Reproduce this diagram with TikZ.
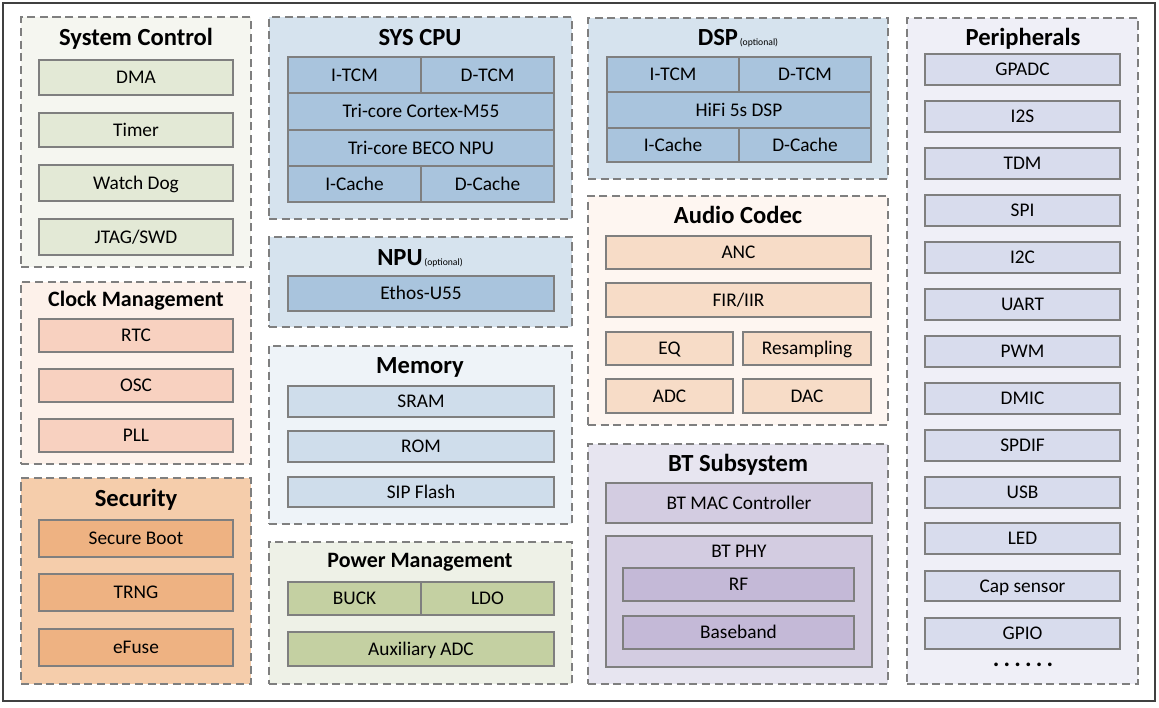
\documentclass[tikz,border=0pt]{standalone}
\usepackage{fontspec}
\setmainfont{Carlito}
\usepackage{tikz}

\definecolor{edgegray}{HTML}{7F7F7F}
\definecolor{framegray}{HTML}{404040}
\definecolor{scpanel}{HTML}{F5F6F0}
\definecolor{scbox}{HTML}{E3E9D6}
\definecolor{ckpanel}{HTML}{FDF1EA}
\definecolor{ckbox}{HTML}{F8D1C0}
\definecolor{secpanel}{HTML}{F5CDAB}
\definecolor{secbox}{HTML}{EEB282}
\definecolor{cpupanel}{HTML}{D6E3EE}
\definecolor{cpubox}{HTML}{A9C4DD}
\definecolor{mempanel}{HTML}{EEF3F8}
\definecolor{membox}{HTML}{CFDDEB}
\definecolor{pwrpanel}{HTML}{EEF1E7}
\definecolor{pwrbox}{HTML}{C4D0A2}
\definecolor{acpanel}{HTML}{FEF6F1}
\definecolor{acbox}{HTML}{F7DCC7}
\definecolor{btpanel}{HTML}{E7E5F0}
\definecolor{btbox}{HTML}{D3CCE1}
\definecolor{btinner}{HTML}{C4B9D7}
\definecolor{perpanel}{HTML}{EFEFF7}
\definecolor{perbox}{HTML}{D8DCED}

\tikzset{
  panel/.style={draw=edgegray,dash pattern=on 4.6pt off 2.6pt,line width=0.6pt,inner sep=0pt},
  cell/.style={draw=edgegray,line width=0.6pt,inner sep=0pt,text height=7.1pt,text depth=0pt,font=\fontsize{11}{13}\selectfont},
  ttl/.style={anchor=base,inner sep=0pt,font=\fontsize{14}{16}\selectfont\bfseries},
  subttl/.style={anchor=base,inner sep=0pt,font=\fontsize{12.5}{15}\selectfont\bfseries}
}

% box between two corners: style, name, x1, y1, x2, y2, text
\newcommand{\blk}[7]{\node[#1,minimum width={(#5-#3)*0.02cm},minimum height={(#6-#4)*0.02cm}]
  (#2) at ({(#3+#5)/2},{(#4+#6)/2}) {#7};}
\newcommand{\optnote}{\kern1pt{\fontsize{5.5}{6}\selectfont\mdseries (optional)}}

\begin{document}
\begin{tikzpicture}[x=0.02cm,y=-0.02cm]
%\draw[help lines] (0,0) grid[step=50] (1159,707);
\useasboundingbox (0,0) rectangle (1159,707);

\draw[line width=1.2pt,color=framegray] (3,3) rectangle (1155,701);

% system control
\blk{panel,fill=scpanel}{sysctl}{21}{17}{251}{267}{}
\node[ttl] (sysctl-t) at (136,45) {System Control};
\blk{cell,fill=scbox}{dma}{39}{60}{233}{95}{DMA}
\blk{cell,fill=scbox}{timer}{39}{113}{233}{147}{Timer}
\blk{cell,fill=scbox}{wdog}{39}{165}{233}{201}{Watch Dog}
\blk{cell,fill=scbox}{jtag}{39}{219}{233}{255}{JTAG/SWD}

% clock management
\blk{panel,fill=ckpanel}{clk}{21}{282}{251}{464}{}
\node[subttl] (clk-t) at (136,306) {Clock Management};
\blk{cell,fill=ckbox}{rtc}{39}{319}{233}{352}{RTC}
\blk{cell,fill=ckbox}{osc}{39}{369}{233}{402}{OSC}
\blk{cell,fill=ckbox}{pll}{39}{419}{233}{452}{PLL}

% security
\blk{panel,fill=secpanel}{sec}{21}{478}{251}{684}{}
\node[ttl] (sec-t) at (136,506) {Security};
\blk{cell,fill=secbox}{sboot}{39}{520}{233}{557}{Secure Boot}
\blk{cell,fill=secbox}{trng}{39}{574}{233}{611}{TRNG}
\blk{cell,fill=secbox}{efuse}{39}{629}{233}{666}{eFuse}

% sys cpu
\blk{panel,fill=cpupanel}{cpu}{269}{17}{572}{219}{}
\node[ttl] (cpu-t) at (420,45) {SYS CPU};
\blk{cell,fill=cpubox}{cpu-itcm}{288}{57}{421}{93}{I-TCM}
\blk{cell,fill=cpubox}{cpu-dtcm}{421}{57}{554}{93}{D-TCM}
\blk{cell,fill=cpubox}{m55}{288}{93}{554}{130}{Tri-core Cortex-M55}
\blk{cell,fill=cpubox}{beco}{288}{130}{554}{166}{Tri-core BECO NPU}
\blk{cell,fill=cpubox}{cpu-ic}{288}{166}{421}{202}{I-Cache}
\blk{cell,fill=cpubox}{cpu-dc}{421}{166}{554}{202}{D-Cache}

% npu
\blk{panel,fill=cpupanel}{npu}{269}{237}{572}{327}{}
\node[ttl] (npu-t) at (420,265) {NPU\optnote};
\blk{cell,fill=cpubox}{ethos}{288}{276}{554}{311}{Ethos-U55}

% memory
\blk{panel,fill=mempanel}{mem}{269}{346}{572}{524}{}
\node[ttl] (mem-t) at (420,373) {Memory};
\blk{cell,fill=membox}{sram}{288}{386}{554}{417}{SRAM}
\blk{cell,fill=membox}{rom}{288}{431}{554}{462}{ROM}
\blk{cell,fill=membox}{flash}{288}{477}{554}{507}{SIP Flash}

% power management
\blk{panel,fill=pwrpanel}{pwr}{269}{542}{572}{684}{}
\node[subttl] (pwr-t) at (420,567) {Power Management};
\blk{cell,fill=pwrbox}{buck}{288}{582}{421}{615}{BUCK}
\blk{cell,fill=pwrbox}{ldo}{421}{582}{554}{615}{LDO}
\blk{cell,fill=pwrbox}{auxadc}{288}{632}{554}{666}{Auxiliary ADC}

% dsp
\blk{panel,fill=cpupanel}{dsp}{588}{18}{888}{179}{}
\node[ttl] (dsp-t) at (738,45) {DSP\optnote};
\blk{cell,fill=cpubox}{dsp-itcm}{607}{57}{739}{92}{I-TCM}
\blk{cell,fill=cpubox}{dsp-dtcm}{739}{57}{871}{92}{D-TCM}
\blk{cell,fill=cpubox}{hifi}{607}{92}{871}{128}{HiFi 5s DSP}
\blk{cell,fill=cpubox}{dsp-ic}{607}{128}{739}{162}{I-Cache}
\blk{cell,fill=cpubox}{dsp-dc}{739}{128}{871}{162}{D-Cache}

% audio codec
\blk{panel,fill=acpanel}{codec}{588}{196}{888}{425}{}
\node[ttl] (codec-t) at (738,223) {Audio Codec};
\blk{cell,fill=acbox}{anc}{606}{236}{871}{269}{ANC}
\blk{cell,fill=acbox}{fir}{606}{283}{871}{317}{FIR/IIR}
\blk{cell,fill=acbox}{eq}{606}{332}{733}{365}{EQ}
\blk{cell,fill=acbox}{resamp}{743}{332}{871}{365}{Resampling}
\blk{cell,fill=acbox}{adc}{606}{379}{733}{413}{ADC}
\blk{cell,fill=acbox}{dac}{743}{379}{871}{413}{DAC}

% bt subsystem
\blk{panel,fill=btpanel}{bt}{588}{444}{888}{684}{}
\node[ttl] (bt-t) at (738,471) {BT Subsystem};
\blk{cell,fill=btbox}{mac}{606}{483}{872}{523}{BT MAC Controller}
\blk{cell,fill=btbox}{phy}{606}{536}{872}{667}{}
\node[anchor=base,inner sep=0pt,font=\fontsize{11}{13}\selectfont] (phy-t) at (739,557) {BT PHY};
\blk{cell,fill=btinner}{rf}{623}{568}{854}{601}{RF}
\blk{cell,fill=btinner}{bband}{623}{616}{854}{649}{Baseband}

% peripherals
\blk{panel,fill=perpanel}{per}{907}{18}{1138}{684}{}
\node[ttl] (per-t) at (1023,45) {Peripherals};
\blk{cell,fill=perbox}{gpadc}{925}{54}{1120}{85}{GPADC}
\blk{cell,fill=perbox}{i2s}{925}{101}{1120}{132}{I2S}
\blk{cell,fill=perbox}{tdm}{925}{148}{1120}{179}{TDM}
\blk{cell,fill=perbox}{spi}{925}{195}{1120}{226}{SPI}
\blk{cell,fill=perbox}{i2c}{925}{242}{1120}{273}{I2C}
\blk{cell,fill=perbox}{uart}{925}{289}{1120}{320}{UART}
\blk{cell,fill=perbox}{pwm}{925}{336}{1120}{367}{PWM}
\blk{cell,fill=perbox}{dmic}{925}{383}{1120}{414}{DMIC}
\blk{cell,fill=perbox}{spdif}{925}{430}{1120}{461}{SPDIF}
\blk{cell,fill=perbox}{usb}{925}{477}{1120}{508}{USB}
\blk{cell,fill=perbox}{led}{925}{523}{1120}{554}{LED}
\blk{cell,fill=perbox}{cap}{925}{571}{1120}{601}{Cap sensor}
\blk{cell,fill=perbox}{gpio}{925}{618}{1120}{649}{GPIO}
\node[inner sep=0pt,font=\fontsize{14}{16}\selectfont\bfseries] (more) at (1023,665) {.\kern2.4pt.\kern2.4pt.\kern2.4pt.\kern2.4pt.\kern2.4pt.};

\end{tikzpicture}
\end{document}
